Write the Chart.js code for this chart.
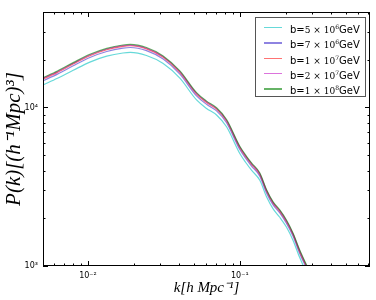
<!DOCTYPE html>
<html>
<head>
<meta charset="utf-8">
<script src="https://cdn.jsdelivr.net/npm/chart.js@4"></script>
<style>
  body { margin: 0; background: #fff; }
  #wrap { position: relative; width: 376px; height: 300px; }
  #legend {
    position: absolute; left: 255px; top: 17px; width: 111px; height: 80px;
    border: 1px solid #555; background: #fff; box-sizing: border-box;
    font-family: "DejaVu Sans", sans-serif; font-size: 10px; color: #000;
  }
  .row { position: absolute; left: 0; height: 14px; line-height: 14px; white-space: nowrap; }
  .swatch { position: absolute; left: 8px; top: 7px; width: 18px; height: 1px; }
  .lbl { position: absolute; left: 34px; top: 0; }
  .math { font-family: "DejaVu Serif", serif; font-size: 9px; }
  .math sup { font-size: 6px; vertical-align: 4px; }
</style>
</head>
<body>
<div id="wrap">
  <canvas id="pk" width="376" height="300"></canvas>
  <div id="legend"></div>
</div>
<script>
// wavenumbers k [h/Mpc]
const kVals = [0.00506, 0.0063, 0.008, 0.0103, 0.0133, 0.0170, 0.0190, 0.0243, 0.0313, 0.0403,
  0.0519, 0.0604, 0.0703, 0.0818, 0.1, 0.1107, 0.1194, 0.1355, 0.150, 0.1657,
  0.1833, 0.2028, 0.2243, 0.248, 0.281, 0.30];

// P(k) for each b value
const pk_b5e6 = [13880, 15280, 17170, 19330, 21050, 22050, 22250, 21250, 18910, 15290,
  11150, 9860, 8960, 7550, 5120, 4430, 4020, 3470, 2730, 2290,
  2030, 1760, 1450, 1130, 870, 770];
const pk_b7e6 = [14730, 16220, 18320, 20670, 22540, 23660, 23880, 22810, 20180, 16230,
  11830, 10470, 9510, 8010, 5430, 4700, 4270, 3690, 2890, 2430,
  2160, 1860, 1540, 1200, 930, 810];
const pk_b1e7 = [15110, 16640, 18800, 21210, 23130, 24280, 24500, 23400, 20710, 16650,
  12140, 10740, 9760, 8220, 5580, 4820, 4380, 3780, 2970, 2490,
  2210, 1910, 1580, 1230, 950, 830];
const pk_b2e7 = [15270, 16810, 18990, 21420, 23360, 24530, 24750, 23640, 20920, 16820,
  12270, 10850, 9860, 8310, 5630, 4870, 4430, 3820, 3000, 2510,
  2240, 1930, 1590, 1250, 960, 840];
const pk_b1e8 = [15420, 16980, 19180, 21640, 23600, 24780, 25000, 23880, 21130, 16990,
  12390, 10960, 9960, 8390, 5690, 4920, 4470, 3860, 3030, 2540,
  2260, 1950, 1610, 1260, 970, 850];

const bMant = [5, 7, 1, 2, 1];
const bExp = [6, 6, 7, 7, 8];
const colors = ['rgba(0,191,191,0.6)', 'rgba(50,30,200,0.55)', 'rgba(255,0,0,0.55)',
  'rgba(191,0,191,0.55)', 'rgba(0,128,0,0.6)'];
const series = [pk_b5e6, pk_b7e6, pk_b1e7, pk_b2e7, pk_b1e8];

const xTickLabels = { '-2': '10⁻²', '-1': '10⁻¹' };
const yTickLabels = { '3': '10³', '4': '10⁴' };

// legend
const legend = document.getElementById('legend');
series.forEach((s, i) => {
  const row = document.createElement('div');
  row.className = 'row';
  row.style.top = (1.7 + i * 15.4) + 'px';
  row.innerHTML = `<div class="swatch" style="background:${colors[i]};height:1.5px"></div>
    <span class="lbl">b=<span class="math">${bMant[i]} × 10<sup>${bExp[i]}</sup></span>GeV</span>`;
  legend.appendChild(row);
});

function isPow10(v) {
  const l = Math.log10(v);
  return Math.abs(l - Math.round(l)) < 1e-6;
}

// matplotlib style: frame + inward ticks on all four sides
const frameTicks = {
  id: 'frameTicks',
  afterDatasetsDraw(chart) {
    const { ctx, chartArea: a, scales } = chart;
    ctx.save();
    ctx.strokeStyle = '#000';
    ctx.lineWidth = 1;
    ctx.strokeRect(a.left + 0.5, a.top + 0.5, a.right - a.left - 1, a.bottom - a.top - 1);
    ctx.beginPath();
    for (let d = -3; d <= 5; d++) {
      for (let m = 1; m < 10; m++) {
        const v = m * Math.pow(10, d);
        const len = m === 1 ? 5 : 2.5;
        if (v >= scales.x.min && v <= scales.x.max) {
          const px = Math.round(scales.x.getPixelForValue(v)) + 0.5;
          ctx.moveTo(px, a.bottom); ctx.lineTo(px, a.bottom - len);
          ctx.moveTo(px, a.top); ctx.lineTo(px, a.top + len);
        }
        if (v >= scales.y.min && v <= scales.y.max) {
          const py = Math.round(scales.y.getPixelForValue(v)) + 0.5;
          ctx.moveTo(a.left, py); ctx.lineTo(a.left + len, py);
          ctx.moveTo(a.right, py); ctx.lineTo(a.right - len, py);
        }
      }
    }
    ctx.stroke();
    ctx.restore();
  }
};

const datasets = series.map((s, i) => ({
  label: 'b=' + bMant[i] + '×10^' + bExp[i] + 'GeV',
  data: kVals.map((k, j) => ({ x: k, y: s[j] })),
  borderColor: colors[i],
  borderWidth: 1.2,
  pointRadius: 0,
  fill: false,
  cubicInterpolationMode: 'monotone',
  order: 5 - i
}));

new Chart(document.getElementById('pk').getContext('2d'), {
  type: 'line',
  data: { datasets },
  plugins: [frameTicks],
  options: {
    responsive: false,
    animation: false,
    layout: { padding: { top: 12, right: 6, left: 0, bottom: 0 } },
    plugins: { legend: { display: false }, tooltip: { enabled: false } },
    scales: {
      x: {
        type: 'logarithmic',
        min: 0.00506,
        max: 0.72,
        grid: { display: false, drawTicks: false },
        border: { display: false },
        afterFit: (scale) => { scale.height = 34; },
        ticks: {
          autoSkip: false,
          maxRotation: 0,
          padding: 5,
          color: '#000',
          font: { family: 'DejaVu Sans', size: 8 },
          callback: (v) => isPow10(v) ? xTickLabels[String(Math.round(Math.log10(v)))] || '' : ''
        },
        title: {
          display: true,
          text: 'k[h Mpc⁻¹]',
          color: '#000',
          font: { family: 'Liberation Serif', style: 'italic', size: 15 },
          padding: { top: 0, bottom: 3 }
        }
      },
      y: {
        type: 'logarithmic',
        min: 1000,
        max: 40000,
        grid: { display: false, drawTicks: false },
        border: { display: false },
        afterFit: (scale) => { scale.width = 43; },
        ticks: {
          autoSkip: false,
          padding: 5,
          color: '#000',
          font: { family: 'DejaVu Sans', size: 8 },
          callback: (v) => isPow10(v) ? yTickLabels[String(Math.round(Math.log10(v)))] || '' : ''
        },
        title: {
          display: true,
          text: 'P(k)[(h⁻¹Mpc)³]',
          color: '#000',
          font: { family: 'Liberation Serif', style: 'italic', size: 21 },
          padding: { top: 2, bottom: 0 }
        }
      }
    }
  }
});
</script>
</body>
</html>
